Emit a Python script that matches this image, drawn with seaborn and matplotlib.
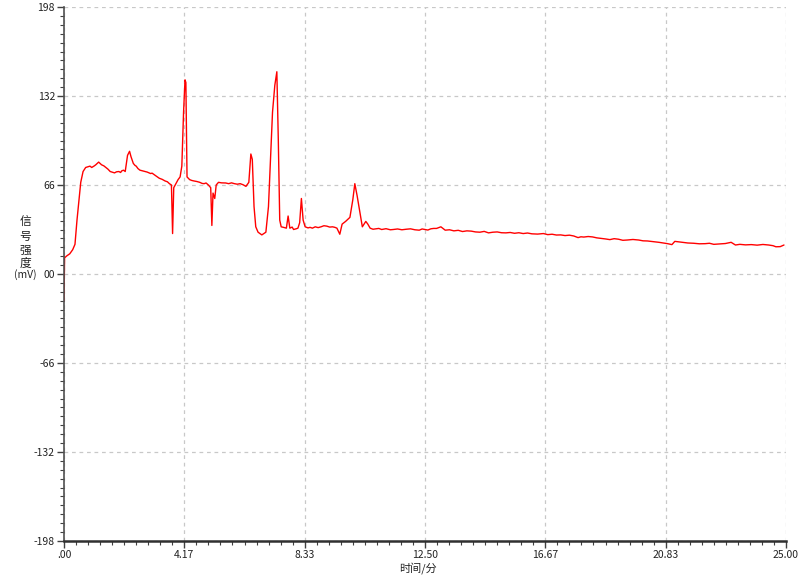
"""Chromatogram trace: signal intensity (mV) vs retention time (min)."""
import matplotlib
matplotlib.use("Agg")
import matplotlib.pyplot as plt
from matplotlib.ticker import MultipleLocator, FixedLocator
import pandas as pd
import seaborn as sns

# retention time (min) and detector signal (mV)
times = [
    0.00, 0.02, 0.10, 0.20, 0.30, 0.38, 0.45, 0.52, 0.58, 0.66, 0.75,
    0.82, 0.90, 0.96, 1.00, 1.05, 1.10, 1.20, 1.30, 1.38, 1.45, 1.52,
    1.60, 1.68, 1.75, 1.82, 1.90, 1.96, 2.00, 2.06, 2.12, 2.20, 2.27,
    2.32, 2.40, 2.46, 2.50, 2.56, 2.63, 2.72, 2.80, 2.88, 2.95, 3.00,
    3.05, 3.10, 3.20, 3.30, 3.40, 3.50, 3.58, 3.65, 3.72, 3.76, 3.80,
    3.85, 3.95, 4.02, 4.08, 4.14, 4.19, 4.22, 4.26, 4.35, 4.42, 4.50,
    4.60, 4.70, 4.78, 4.85, 4.92, 5.00, 5.08, 5.12, 5.16, 5.22, 5.27,
    5.35, 5.45, 5.60, 5.70, 5.80, 5.90, 6.00, 6.10, 6.20, 6.30, 6.40,
    6.47, 6.52, 6.58, 6.64, 6.72, 6.85, 6.99, 7.08, 7.15, 7.22, 7.30,
    7.37, 7.42, 7.47, 7.52, 7.62, 7.70, 7.76, 7.82, 7.90, 7.95, 8.05,
    8.10, 8.16, 8.22, 8.28, 8.35, 8.45, 8.52, 8.60, 8.70, 8.80, 8.90,
    9.00, 9.10, 9.20, 9.30, 9.38, 9.45, 9.55, 9.63, 9.75, 9.90, 10.00,
    10.07, 10.15, 10.25, 10.33, 10.45, 10.52, 10.60, 10.70, 10.80, 10.90,
    11.00, 11.15, 11.30, 11.40, 11.55, 11.70, 11.85, 12.00, 12.15, 12.30,
    12.40, 12.50, 12.60, 12.70, 12.80, 12.90, 13.05, 13.20, 13.35, 13.50,
    13.65, 13.80, 13.95, 14.10, 14.25, 14.40, 14.55, 14.70, 14.85, 15.00,
    15.15, 15.30, 15.45, 15.60, 15.75, 15.90, 16.05, 16.20, 16.40, 16.60,
    16.75, 16.90, 17.05, 17.20, 17.35, 17.50, 17.65, 17.80, 17.90, 18.00,
    18.15, 18.30, 18.45, 18.60, 18.75, 18.90, 19.05, 19.20, 19.35, 19.50,
    19.70, 19.90, 20.05, 20.20, 20.40, 20.60, 20.75, 20.90, 21.05, 21.15,
    21.30, 21.40, 21.60, 21.80, 22.00, 22.20, 22.35, 22.50, 22.70, 22.90,
    23.10, 23.25, 23.40, 23.60, 23.80, 24.00, 24.20, 24.40, 24.55, 24.65,
    24.80, 24.93,
]
signal = [
    -20.0, 12.0, 13.5, 15.0, 18.0, 22.0, 40.0, 55.0, 68.0, 76.0, 79.0,
    79.5, 80.0, 79.0, 79.5, 80.2, 81.0, 83.0, 81.0, 80.2, 79.0, 77.8,
    76.0, 75.5, 75.0, 75.8, 76.0, 75.3, 76.5, 77.0, 76.0, 88.0, 91.0,
    87.0, 82.0, 80.5, 80.0, 78.2, 77.0, 76.5, 76.0, 75.6, 75.0, 74.5,
    74.8, 74.0, 72.5, 71.0, 70.2, 69.0, 68.4, 67.0, 66.0, 30.0, 64.0,
    66.0, 70.0, 72.0, 80.0, 120.0, 144.0, 142.0, 72.0, 70.0, 69.4, 69.0,
    68.6, 68.0, 67.2, 67.0, 67.5, 66.0, 64.0, 36.0, 60.0, 56.0, 66.0,
    68.0, 67.6, 67.5, 67.0, 67.6, 67.0, 66.6, 67.0, 66.2, 65.0, 68.0,
    89.0, 85.0, 50.0, 35.0, 31.0, 29.0, 31.0, 50.0, 85.0, 120.0, 140.0,
    150.0, 100.0, 40.0, 35.0, 34.5, 34.0, 43.0, 34.0, 34.8, 33.0, 33.6,
    34.0, 38.0, 56.0, 40.0, 35.0, 34.2, 34.6, 34.0, 35.0, 34.4, 35.0,
    35.8, 35.5, 34.8, 35.0, 34.6, 34.0, 29.5, 37.0, 39.0, 42.0, 55.0,
    67.0, 58.0, 45.0, 35.0, 39.0, 37.0, 34.0, 33.2, 33.5, 33.8,
    33.0, 33.6, 32.8, 33.0, 33.4, 32.8, 33.2, 33.5, 32.8, 32.5,
    33.4, 33.0, 32.6, 33.5, 33.8, 33.8, 35.0, 32.5, 32.8, 32.0,
    32.4, 31.5, 32.0, 31.8, 31.2, 31.0, 31.6, 30.5, 31.0, 31.2,
    30.6, 30.5, 30.8, 30.2, 30.6, 30.0, 30.4, 29.8, 29.6, 30.0,
    29.2, 29.5, 28.9, 29.0, 28.5, 28.8, 28.2, 27.0, 27.6, 27.4,
    27.8, 27.5, 26.8, 26.4, 26.0, 25.5, 26.2, 25.8, 25.0, 25.2,
    25.6, 25.2, 24.6, 24.5, 24.0, 23.5, 23.0, 22.5, 21.8, 24.2,
    23.8, 23.5, 23.0, 22.8, 22.4, 22.5, 22.8, 22.0, 22.3, 22.6,
    23.5, 21.5, 22.0, 21.6, 21.8, 21.4, 21.9, 21.5, 21.0, 20.2,
    20.3, 21.5,
]

x_ticks = [0, 25 / 6, 25 / 3, 12.5, 50 / 3, 125 / 6, 25]
x_labels = [".00", "4.17", "8.33", "12.50", "16.67", "20.83", "25.00"]
y_ticks = [-198, -132, -66, 0, 66, 132, 198]
y_labels = ["-198", "-132", "-66", "00", "66", "132", "198"]
y_title = ["信", "号", "强", "度", "(mV)"]

df = pd.DataFrame({"time": times, "signal": signal})

sns.set_theme(style="white")
plt.rcParams["font.family"] = ["Noto Sans CJK SC", "DejaVu Sans"]

fig = plt.figure(figsize=(8, 5.76), dpi=100)
ax = fig.add_axes([0.08, 0.0608, 0.9025, 0.927])

sns.lineplot(data=df, x="time", y="signal", color="#ff0000",
             linewidth=1.0, estimator=None, sort=False, ax=ax)

ax.set_xlim(0, 25)
ax.set_ylim(-198, 198)
ax.xaxis.set_major_locator(FixedLocator(x_ticks))
ax.set_xticklabels(x_labels)
ax.xaxis.set_minor_locator(MultipleLocator(25 / 60))
ax.yaxis.set_major_locator(FixedLocator(y_ticks))
ax.set_yticklabels(y_labels)
ax.yaxis.set_minor_locator(MultipleLocator(6.6))

ax.grid(True, which="major", color="#c8c8c8", linestyle=(0, (3, 3)),
        linewidth=0.9)
for side in ["top", "right"]:
    ax.spines[side].set_visible(False)
ax.spines["left"].set_color("#505050")
ax.spines["left"].set_linewidth(1.2)
ax.spines["bottom"].set_color("#303030")
ax.spines["bottom"].set_linewidth(1.8)

ax.tick_params(which="major", direction="out", length=5, width=1,
               color="#404040", labelsize=7.5, labelcolor="#222222",
               left=True, bottom=True, pad=1.5)
ax.tick_params(which="minor", direction="out", length=3, width=0.8,
               color="#404040", left=True, bottom=True)

ax.set_xlabel("")
ax.set_ylabel("")
fig.text(0.522, 1 - 568 / 576, "时间/分", ha="center", va="center",
         fontsize=8, color="#222222")
# vertical y title, one glyph per row
for row, (txt, py) in enumerate(zip(y_title, [222, 236, 250, 263, 275])):
    fig.text(25 / 800, 1 - py / 576, txt, ha="center", va="center",
             fontsize=8.5 if row < 4 else 7.5, color="#222222")

fig.savefig("out.png", dpi=100)
